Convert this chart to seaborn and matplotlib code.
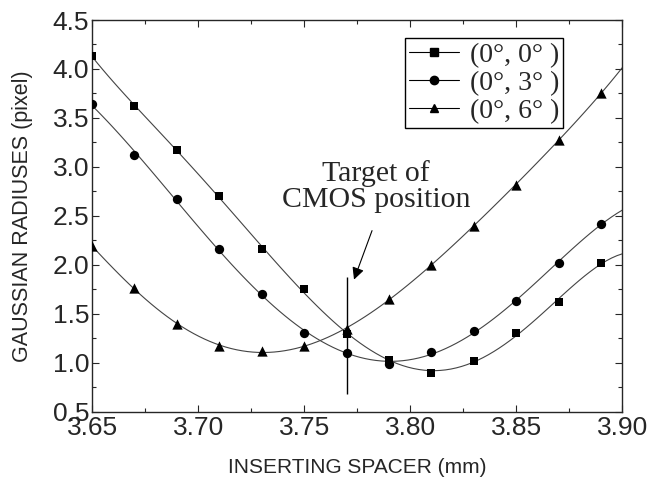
import numpy as np
import pandas as pd
import seaborn as sns
import matplotlib.pyplot as plt
from matplotlib.ticker import MultipleLocator

# data
spacer = [3.65, 3.67, 3.69, 3.71, 3.73, 3.75, 3.77, 3.79, 3.81, 3.83, 3.85, 3.87, 3.89]
radius_0 = [4.13, 3.62, 3.17, 2.70, 2.16, 1.75, 1.29, 1.03, 0.90, 1.02, 1.31, 1.62, 2.02]
radius_3 = [3.64, 3.12, 2.67, 2.16, 1.70, 1.31, 1.10, 0.99, 1.11, 1.33, 1.63, 2.02, 2.42]
radius_6 = [2.19, 1.76, 1.40, 1.17, 1.12, 1.17, 1.35, 1.65, 2.00, 2.40, 2.82, 3.28, 3.75]
labels = ["(0°, 0° )", "(0°, 3° )", "(0°, 6° )"]
markers = ["s", "o", "^"]
sizes = [40, 45, 55]
target_x = 3.77

sns.set_style("ticks")
plt.rcParams['font.family'] = ['Liberation Sans', 'DejaVu Sans']
plt.rcParams['xtick.direction'] = 'in'
plt.rcParams['ytick.direction'] = 'in'

fig = plt.figure(figsize=(6.53, 4.88), dpi=100)
ax = fig.add_axes([0.141, 0.156, 0.812, 0.803])
ax.set_xlim(3.65, 3.90)
ax.set_ylim(0.5, 4.5)

for series, lab, mk, sz in zip([radius_0, radius_3, radius_6], labels, markers, sizes):
    df = pd.DataFrame({"x": spacer, "y": series})
    # fitted curve out to the axis edge
    sns.regplot(data=df, x="x", y="y", order=5, ci=None, truncate=False,
                scatter=False, ax=ax,
                line_kws=dict(color="#444444", lw=0.8))
    sns.scatterplot(data=df, x="x", y="y", marker=mk, color="black",
                    s=sz, edgecolor="black", linewidth=0, ax=ax, zorder=3)
    ax.plot([], [], color="black", lw=0.8, marker=mk, markersize=6, label=lab)

ax.set_xlim(3.65, 3.90)
ax.set_ylim(0.5, 4.5)

# target marker line and annotation
ax.vlines(target_x, 0.68, 1.88, color="black", lw=1)
ax.text(3.784, 2.80, "Target of\nCMOS position", ha="center", va="center",
        fontsize=21.5, family="Liberation Serif", linespacing=1.0)
ax.annotate("", xy=(3.7735, 1.85), xytext=(3.782, 2.35),
            arrowprops=dict(arrowstyle="-|>", color="black", lw=0.8,
                            mutation_scale=18, shrinkA=0, shrinkB=0))

ax.xaxis.set_major_locator(MultipleLocator(0.05))
ax.xaxis.set_minor_locator(MultipleLocator(0.025))
ax.yaxis.set_major_locator(MultipleLocator(0.5))
ax.yaxis.set_minor_locator(MultipleLocator(0.25))
ax.tick_params(which="both", top=True, right=True, labelsize=19, width=0.8)
ax.tick_params(which="major", length=5)
ax.tick_params(which="minor", length=3)
ax.tick_params(axis="x", pad=3)
ax.tick_params(axis="y", pad=2)
ax.xaxis.set_major_formatter(plt.FormatStrFormatter("%.2f"))
ax.yaxis.set_major_formatter(plt.FormatStrFormatter("%.1f"))
for s in ax.spines.values():
    s.set_linewidth(1.0)
    s.set_visible(True)

ax.set_xlabel("INSERTING SPACER (mm)", fontsize=15, labelpad=13)
ax.set_ylabel("GAUSSIAN RADIUSES (pixel)", fontsize=15.5, labelpad=14)

leg = ax.legend(loc="upper right", bbox_to_anchor=(0.889, 0.954),
                prop={"family": "Liberation Serif", "size": 20},
                handlelength=1.8, handletextpad=0.4, labelspacing=0.1,
                borderpad=0.15, borderaxespad=0, fancybox=False,
                framealpha=1, edgecolor="black")
leg.get_frame().set_linewidth(1.0)

fig.savefig("out.png", dpi=100)
